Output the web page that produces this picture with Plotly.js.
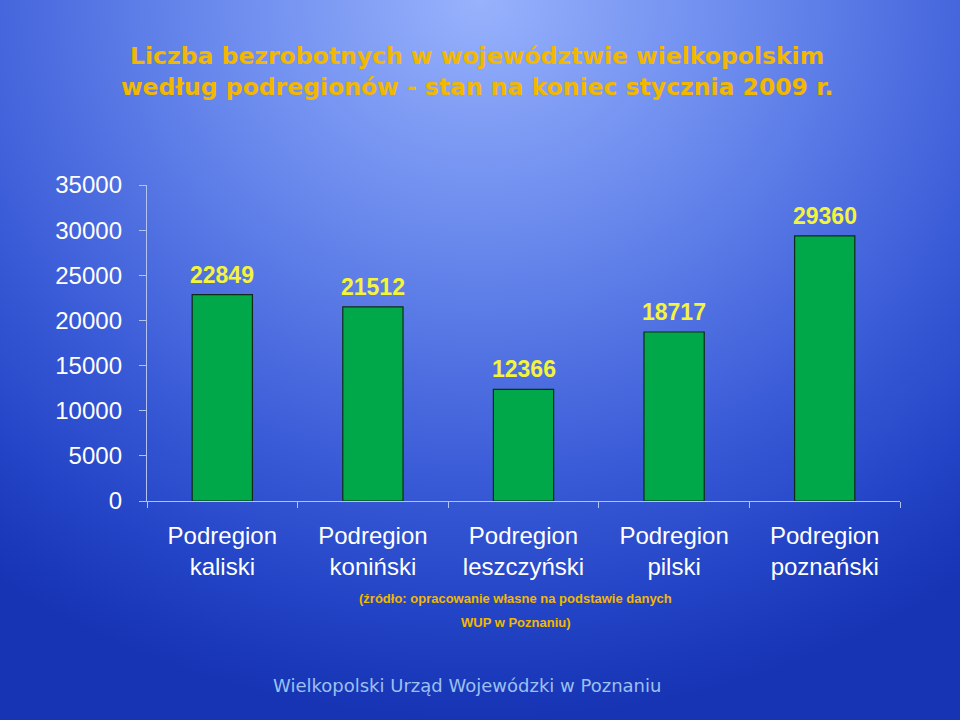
<!DOCTYPE html>
<html>
<head>
<meta charset="utf-8">
<script src="https://cdn.plot.ly/plotly-3.0.1.min.js"></script>
<style>
  html, body { margin:0; padding:0; width:960px; height:720px; overflow:hidden; }
  body { background: radial-gradient(ellipse 85% 100% at 50% 0%, #98b2fc 0%, #6787ec 35%, #3c5dd8 65%, #2344c6 85%, #1634b4 100%); }
  #chart { width:960px; height:720px; }
</style>
</head>
<body>
<div id="chart"></div>
<script>
const categories = ["Podregion<br>kaliski", "Podregion<br>koniński", "Podregion<br>leszczyński", "Podregion<br>pilski", "Podregion<br>poznański"];
const values = [22849, 21512, 12366, 18717, 29360];
const yTicks = [0, 5000, 10000, 15000, 20000, 25000, 30000, 35000];

const trace = {
  type: 'bar',
  x: categories,
  y: values,
  marker: { color: '#00a84a', line: { color: '#102a18', width: 1.2 } },
  hoverinfo: 'none'
};

const annotations = categories.map((c, i) => ({
  x: c, y: values[i], xref: 'x', yref: 'y',
  text: String(values[i]), showarrow: false,
  yanchor: 'bottom', yshift: 5,
  font: { family: 'Liberation Sans, Arial, sans-serif', size: 23, color: '#f4f43c', weight: 'bold' }
}));

annotations.push({
  xref: 'paper', yref: 'paper', x: 0.49, y: -0.307, xanchor: 'center', yanchor: 'middle',
  text: '<b>(źródło: opracowanie własne na podstawie danych</b>', showarrow: false,
  font: { family: 'Liberation Sans Narrow, Arial Narrow, Liberation Sans, sans-serif', size: 13, color: '#f2b800' }
});
annotations.push({
  xref: 'paper', yref: 'paper', x: 0.49, y: -0.386, xanchor: 'center', yanchor: 'middle',
  text: '<b>WUP w Poznaniu)</b>', showarrow: false,
  font: { family: 'Liberation Sans Narrow, Arial Narrow, Liberation Sans, sans-serif', size: 13, color: '#f2b800' }
});
annotations.push({
  xref: 'paper', yref: 'paper', x: 0.425, y: -0.585, xanchor: 'center', yanchor: 'middle',
  text: 'Wielkopolski Urząd Wojewódzki w Poznaniu', showarrow: false,
  font: { family: 'DejaVu Sans, Verdana, sans-serif', size: 18, color: '#9cc0f2' }
});

const layout = {
  width: 960, height: 720,
  paper_bgcolor: 'rgba(0,0,0,0)', plot_bgcolor: 'rgba(0,0,0,0)',
  margin: { l: 147, r: 60, t: 185, b: 219 },
  title: {
    text: 'Liczba bezrobotnych w województwie wielkopolskim<br>według podregionów - stan na koniec stycznia 2009 r.',
    x: 0.497, xanchor: 'center', y: 1 - 64/720, yanchor: 'top',
    font: { family: 'DejaVu Sans, Verdana, sans-serif', size: 23.5, color: '#f2b800', weight: 'bold' }
  },
  bargap: 0.6,
  showlegend: false,
  xaxis: {
    type: 'category',
    showline: true, linecolor: '#b4c2f0', linewidth: 1.2,
    ticks: 'outside', tickson: 'boundaries', ticklen: 6, tickcolor: '#b4c2f0',
    tickfont: { family: 'Liberation Sans, Arial, sans-serif', size: 24, color: '#ffffff' },
    ticklabelstandoff: 13,
    showgrid: false, zeroline: false, fixedrange: true
  },
  yaxis: {
    range: [0, 35000], tickvals: yTicks, ticktext: yTicks.map(String),
    showline: true, linecolor: '#b4c2f0', linewidth: 1.2,
    ticks: 'outside', ticklen: 7, tickcolor: '#b4c2f0',
    tickfont: { family: 'Liberation Sans, Arial, sans-serif', size: 24, color: '#ffffff' },
    ticklabelstandoff: 12,
    showgrid: false, zeroline: false, fixedrange: true
  },
  annotations: annotations
};

Plotly.newPlot('chart', [trace], layout, { displayModeBar: false, staticPlot: true });
</script>
</body>
</html>
